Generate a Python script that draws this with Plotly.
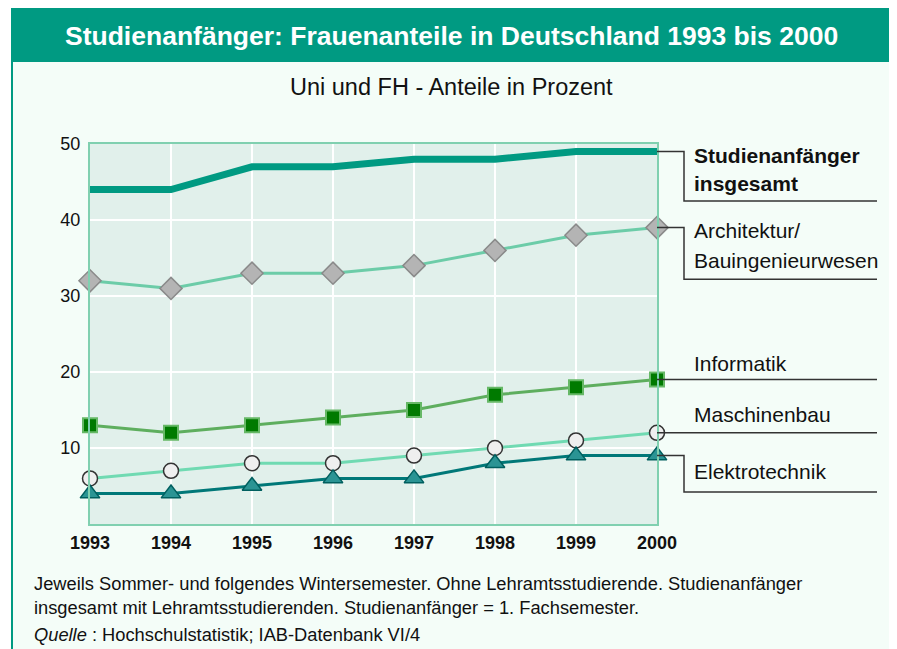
import plotly.graph_objects as go

years = [1993, 1994, 1995, 1996, 1997, 1998, 1999, 2000]
insgesamt = [44, 44, 47, 47, 48, 48, 49, 49]
architektur = [32, 31, 33, 33, 34, 36, 38, 39]
informatik = [13, 12, 13, 14, 15, 17, 18, 19]
maschinenbau = [6, 7, 8, 8, 9, 10, 11, 12]
elektrotechnik = [4, 4, 5, 6, 6, 8, 9, 9]
y_ticks = [10, 20, 30, 40, 50]

title_text = "Studienanfänger: Frauenanteile in Deutschland 1993 bis 2000"
subtitle_text = "Uni und FH - Anteile in Prozent"
note_lines = [
    "Jeweils Sommer- und folgendes Wintersemester. Ohne Lehramtsstudierende. Studienanfänger",
    "insgesamt mit Lehramtsstudierenden. Studienanfänger = 1. Fachsemester.",
]
source_text = "<i>Quelle</i> : Hochschulstatistik; IAB-Datenbank VI/4"

# page body has an 8px margin; figure is sized to fill the rest of the window
OFF = 8
W, H = 897 - OFF, 649 - OFF
L, R, T, B = 90 - OFF, 240, 144 - OFF, 125
PW, PH = W - L - R, H - T - B

def px(p):  # window x pixel -> paper
    return (p - OFF - L) / PW

def py(p):  # window y pixel -> paper
    return 1 - (p - OFF - T) / PH

FONT = "Liberation Sans, Arial, sans-serif"
TEAL = "#009a82"
TXT = "#111111"

fig = go.Figure()

fig.add_trace(go.Scatter(x=years, y=insgesamt, mode="lines",
                         line=dict(color=TEAL, width=7), cliponaxis=False))
fig.add_trace(go.Scatter(x=years, y=architektur, mode="lines+markers",
                         line=dict(color="#6ccca8", width=3),
                         marker=dict(symbol="diamond", size=17, color="#b4b4b4",
                                     line=dict(color="#8a8a8a", width=1.5)),
                         cliponaxis=False))
fig.add_trace(go.Scatter(x=years, y=informatik, mode="lines+markers",
                         line=dict(color="#5eae5e", width=3),
                         marker=dict(symbol="square", size=14, color="#007a00",
                                     line=dict(color="#66b866", width=2)),
                         cliponaxis=False))
fig.add_trace(go.Scatter(x=years, y=maschinenbau, mode="lines+markers",
                         line=dict(color="#70dab2", width=3),
                         marker=dict(symbol="circle", size=15, color="#efefef",
                                     line=dict(color="#333333", width=1.5)),
                         cliponaxis=False))
fig.add_trace(go.Scatter(x=years, y=elektrotechnik, mode="lines+markers",
                         line=dict(color="#007878", width=3),
                         marker=dict(symbol="triangle-up", size=17, color="#2a9494",
                                     line=dict(color="#005f5f", width=1.5)),
                         cliponaxis=False))

shapes = []
# white strip outside the panel
shapes.append(dict(type="rect", xref="paper", yref="paper", x0=px(0), x1=px(11), y0=py(0), y1=py(700),
                   fillcolor="white", line=dict(width=0), layer="below"))
# panel borders
shapes.append(dict(type="line", xref="paper", yref="paper", x0=px(12), x1=px(12), y0=py(8), y1=py(700),
                   line=dict(color=TEAL, width=2)))
shapes.append(dict(type="line", xref="paper", yref="paper", x0=px(895), x1=px(895), y0=py(8), y1=py(700),
                   line=dict(color=TEAL, width=2)))
# header band
shapes.append(dict(type="rect", xref="paper", yref="paper", x0=px(11), x1=px(896), y0=py(8), y1=py(62),
                   fillcolor=TEAL, line=dict(width=0)))

# connector lines for labels
xs, xb, xe = 1.0, px(684), px(877)
LC = "#333333"
def elbow(y0, y1):
    shapes.append(dict(type="path", xref="paper", yref="y",
                       path=f"M {xs} {y0} L {xb} {y0} L {xb} {y1} L {xe} {y1}",
                       line=dict(color=LC, width=1.5)))
def flat(y0):
    shapes.append(dict(type="line", xref="paper", yref="y", x0=xs, x1=xe, y0=y0, y1=y0,
                       line=dict(color=LC, width=1.5)))

elbow(insgesamt[-1], 42.5)
elbow(architektur[-1], 32.2)
flat(informatik[-1])
flat(maschinenbau[-1])
elbow(elektrotechnik[-1], 4.2)

ann = []
ann.append(dict(text=f"<b>{title_text}</b>", xref="paper", yref="paper", x=px(451), y=py(36),
                xanchor="center", yanchor="middle", showarrow=False,
                font=dict(family=FONT, size=26.5, color="white")))
ann.append(dict(text=subtitle_text, xref="paper", yref="paper", x=px(451), y=py(87),
                xanchor="center", yanchor="middle", showarrow=False,
                font=dict(family=FONT, size=23.5, color=TXT)))

lx = px(692)
def lab(text, ypix, bold=False):
    t = f"<b>{text}</b>" if bold else text
    ann.append(dict(text=t, xref="paper", yref="paper", x=lx, y=py(ypix), xanchor="left",
                    yanchor="middle", showarrow=False,
                    font=dict(family=FONT, size=21, color=TXT)))

lab("Studienanfänger", 155, True)
lab("insgesamt", 183, True)
lab("Architektur/", 230)
lab("Bauingenieurwesen", 260)
lab("Informatik", 363)
lab("Maschinenbau", 414)
lab("Elektrotechnik", 471)

for i, line in enumerate(note_lines):
    ann.append(dict(text=line, xref="paper", yref="paper", x=px(32), y=py(583 + 24 * i),
                    xanchor="left", yanchor="middle", showarrow=False,
                    font=dict(family=FONT, size=18.3, color=TXT)))
ann.append(dict(text=source_text, xref="paper", yref="paper", x=px(32), y=py(634),
                xanchor="left", yanchor="middle", showarrow=False,
                font=dict(family=FONT, size=18.3, color=TXT)))

fig.update_layout(
    width=W, height=H,
    margin=dict(l=L, r=R, t=T, b=B, pad=0),
    paper_bgcolor="#f4fdf8",
    plot_bgcolor="#e1f0eb",
    showlegend=False,
    shapes=shapes,
    annotations=ann,
    xaxis=dict(range=[1993, 2000], tickvals=years, ticktext=[f"<b>{y}</b>" for y in years],
               showgrid=True, gridcolor="white", gridwidth=1.5,
               showline=True, linecolor="#80d0b0", linewidth=2, mirror=True,
               zeroline=False, ticks="", ticklabelstandoff=1,
               tickfont=dict(family=FONT, size=18, color=TXT)),
    yaxis=dict(range=[0, 50], tickvals=y_ticks,
               showgrid=True, gridcolor="white", gridwidth=1.5,
               showline=True, linecolor="#80d0b0", linewidth=2, mirror=True,
               zeroline=False, ticks="", ticklabelstandoff=4,
               tickfont=dict(family=FONT, size=18, color=TXT)),
)

fig.write_html("out.html")
